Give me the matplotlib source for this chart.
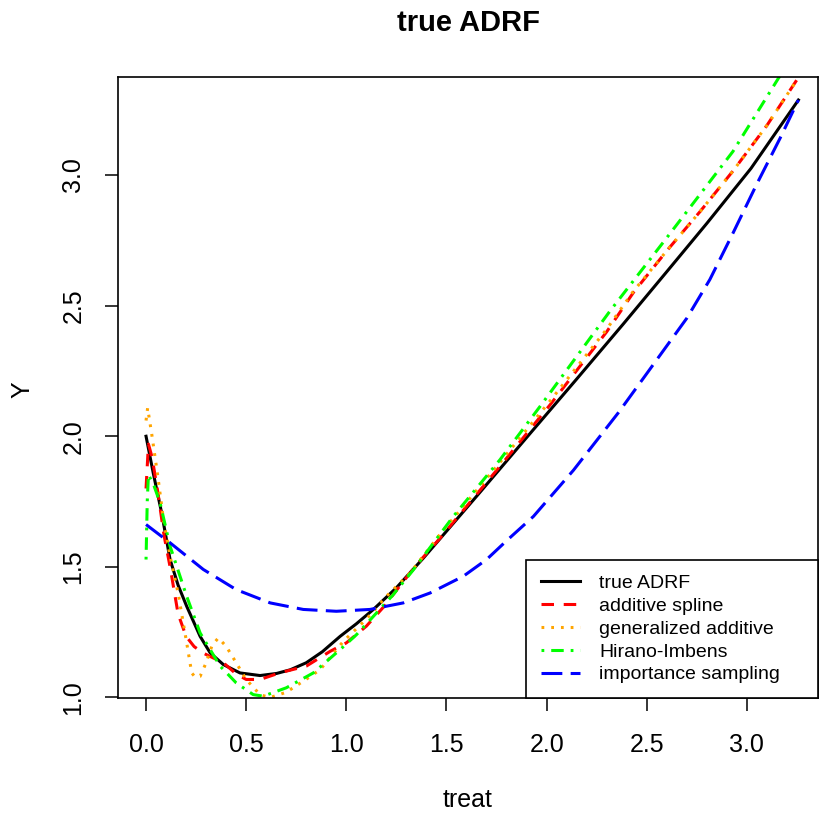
"""Estimated ADRF curves against the true ADRF"""
import matplotlib
matplotlib.use('Agg')
import matplotlib.pyplot as plt

plt.rcParams['font.family'] = ['Liberation Sans', 'DejaVu Sans']
plt.rcParams['lines.scale_dashes'] = False

# true ADRF
true_x = [0, 0.036, 0.078, 0.12, 0.16, 0.203, 0.27, 0.32, 0.386, 0.469, 0.569, 0.652,
          0.72, 0.80, 0.88, 0.969, 1.05, 1.135, 1.25, 1.385, 1.65, 1.90, 2.15, 2.383,
          2.60, 2.80, 3.02, 3.257]
true_y = [2.0, 1.859, 1.706, 1.528, 1.43, 1.349, 1.234, 1.171, 1.126, 1.094, 1.084, 1.092,
          1.106, 1.133, 1.175, 1.234, 1.282, 1.337, 1.42, 1.534, 1.77, 1.995, 2.219, 2.43,
          2.63, 2.815, 3.025, 3.287]

# additive spline
spl_x = [0, 0.012, 0.03, 0.06, 0.09, 0.12, 0.16, 0.20, 0.24, 0.285, 0.386, 0.45, 0.50,
         0.57, 0.67, 0.80, 0.92, 1.0, 1.10, 1.19, 1.28, 1.37, 1.468, 1.767, 2.017, 2.30,
         2.433, 2.60, 2.766, 2.93, 3.10, 3.25]
spl_y = [1.80, 1.97, 1.92, 1.78, 1.62, 1.50, 1.32, 1.234, 1.195, 1.17, 1.133, 1.09, 1.069,
         1.069, 1.095, 1.12, 1.177, 1.209, 1.273, 1.35, 1.44, 1.525, 1.61, 1.885, 2.12, 2.40,
         2.55, 2.71, 2.86, 3.015, 3.19, 3.365]

# generalized additive
gam_x = [0, 0.008, 0.03, 0.06, 0.087, 0.12, 0.16, 0.203, 0.228, 0.245, 0.27, 0.30, 0.33,
         0.361, 0.40, 0.45, 0.50, 0.57, 0.62, 0.70, 0.80, 0.87, 0.985, 1.10, 1.20, 1.32,
         1.468, 1.767, 2.017, 2.30, 2.433, 2.60, 2.766, 2.93, 3.10, 3.25]
gam_y = [2.06, 2.108, 2.00, 1.84, 1.68, 1.54, 1.40, 1.209, 1.094, 1.078, 1.081, 1.133, 1.20,
         1.228, 1.196, 1.133, 1.069, 1.01, 1.00, 1.02, 1.07, 1.107, 1.215, 1.30, 1.387, 1.478,
         1.625, 1.90, 2.135, 2.41, 2.555, 2.71, 2.86, 3.015, 3.19, 3.365]

# Hirano-Imbens
hi_x = [0, 0.006, 0.012, 0.04, 0.07, 0.12, 0.203, 0.27, 0.37, 0.45, 0.535, 0.585, 0.70,
        0.835, 0.97, 1.05, 1.12, 1.23, 1.335, 1.534, 1.767, 1.967, 2.317, 2.60, 2.93,
        3.157, 3.25]
hi_y = [1.528, 1.75, 1.853, 1.81, 1.745, 1.579, 1.387, 1.247, 1.12, 1.056, 1.011, 1.005, 1.037,
        1.094, 1.184, 1.24, 1.298, 1.39, 1.489, 1.693, 1.91, 2.114, 2.48, 2.76, 3.09,
        3.37, 3.47]

# importance sampling
is_x = [0, 0.12, 0.286, 0.45, 0.62, 0.785, 0.95, 1.118, 1.284, 1.418, 1.584, 1.70, 1.80,
        1.934, 2.134, 2.358, 2.50, 2.70, 2.815, 2.932, 3.049, 3.165, 3.257]
is_y = [1.662, 1.592, 1.49, 1.413, 1.362, 1.337, 1.33, 1.337, 1.362, 1.40, 1.464, 1.528, 1.60,
        1.693, 1.87, 2.09, 2.24, 2.452, 2.60, 2.78, 2.965, 3.14, 3.287]

fig = plt.figure(figsize=(8.2, 8.16), dpi=100)
ax = fig.add_axes([0.1439, 0.1446, 0.8537, 0.761])

lw = 2.2
ax.plot(true_x, true_y, color='black', lw=lw, label='true ADRF')
ax.plot(spl_x, spl_y, color='#FF0000', lw=lw, linestyle=(0, (9, 7)), label='additive spline')
ax.plot(gam_x, gam_y, color='#FFA500', lw=lw, linestyle=(0, (2, 5)), label='generalized additive')
ax.plot(hi_x, hi_y, color='#00FF00', lw=lw, linestyle=(0, (2, 5, 9, 5)), label='Hirano-Imbens')
ax.plot(is_x, is_y, color='#0000FF', lw=lw, linestyle=(0, (15, 6)), label='importance sampling')

ax.set_xlim(-0.14, 3.355)
ax.set_ylim(0.998, 3.375)
ax.set_xticks([0, 0.5, 1.0, 1.5, 2.0, 2.5, 3.0])
ax.set_xticklabels(['0.0', '0.5', '1.0', '1.5', '2.0', '2.5', '3.0'])
ax.set_yticks([1.0, 1.5, 2.0, 2.5, 3.0])
ax.set_yticklabels(['1.0', '1.5', '2.0', '2.5', '3.0'])
ax.tick_params(length=9.4, width=1.1, labelsize=18, pad=16)
ax.tick_params(axis='y', labelrotation=90, pad=14)
for lab in ax.get_yticklabels():
    lab.set_va('center')
for s in ax.spines.values():
    s.set_linewidth(1.2)

ax.set_xlabel('treat', fontsize=18)
ax.xaxis.set_label_coords(0.5, -0.164)
ax.xaxis.label.set_va('center')
ax.set_ylabel('Y', fontsize=18)
ax.yaxis.set_label_coords(-0.137, 0.496)
ax.yaxis.label.set_va('center')
ax.set_title('true ADRF', fontsize=21, fontweight='bold', y=1.087, va='center', pad=0)

leg = ax.legend(loc='lower left', bbox_to_anchor=(0.583, 0, 0.417, 0.2), mode='expand',
                borderaxespad=0, fancybox=False, edgecolor='black', framealpha=1,
                fontsize=14, handlelength=2.0, handletextpad=1.0, borderpad=0.75,
                labelspacing=0.27)
leg.get_frame().set_linewidth(1.2)

fig.savefig('out.png', dpi=100)
